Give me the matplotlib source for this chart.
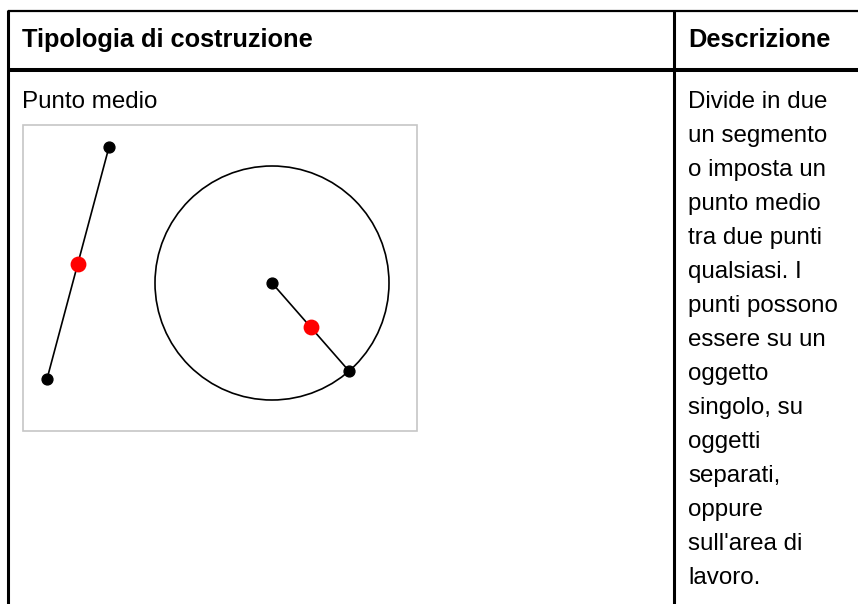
import matplotlib
matplotlib.use('Agg')
import matplotlib.pyplot as plt
from matplotlib.patches import Circle, Rectangle

# table content
HEADERS = ["Tipologia di costruzione", "Descrizione"]
ROW_LABEL = "Punto medio"
DESC_LINES = ["Divide in due", "un segmento", "o imposta un", "punto medio",
              "tra due punti", "qualsiasi. I", "punti possono", "essere su un",
              "oggetto", "singolo, su", "oggetti", "separati,", "oppure",
              "sull'area di", "lavoro."]

# illustration (pixel coords)
SEG_X = [47, 109]
SEG_Y = [379, 147]
SEG_MID = (78, 264)
CIRCLE_CENTER = (272, 283)
CIRCLE_R = 117
CIRCLE_PT = (349, 371)
RADIUS_MID = (311, 327)

W, H = 858, 604
plt.rcParams['font.family'] = ['Liberation Sans', 'DejaVu Sans']

fig = plt.figure(figsize=(W / 100, H / 100), dpi=100)
ax = fig.add_axes([0, 0, 1, 1])
ax.set_xlim(0, W)
ax.set_ylim(H, 0)
ax.axis('off')

# table rules
ax.plot([8, W], [11, 11], color='black', lw=1.6, solid_capstyle='butt')
ax.plot([8, W], [69.5, 69.5], color='black', lw=2.9, solid_capstyle='butt')
ax.plot([8, 8], [10, H], color='black', lw=2.2, solid_capstyle='butt')
ax.plot([674, 674], [10, H], color='black', lw=2.2, solid_capstyle='butt')

# header
ax.text(22, 47, HEADERS[0], fontsize=18.3, fontweight='bold', va='baseline', ha='left')
ax.text(688, 47, HEADERS[1], fontsize=18.3, fontweight='bold', va='baseline', ha='left')

# first column label
ax.text(22, 108, ROW_LABEL, fontsize=17.4, va='baseline', ha='left')

# description lines
for i, line in enumerate(DESC_LINES):
    ax.text(688, 108 + i * 34, line, fontsize=17.4, va='baseline', ha='left')

# illustration frame
ax.add_patch(Rectangle((22.5, 124.5), 394, 306, fill=False, edgecolor='#c6c6c6', lw=1.2))

# segment with midpoint
ax.plot(SEG_X, SEG_Y, color='black', lw=1.2, zorder=3)
ax.plot(SEG_X, SEG_Y, 'o', color='black', ms=7.8, zorder=4)
ax.plot(*SEG_MID, 'o', color='#ff0000', ms=10.4, zorder=5)

# circle with radius and midpoint
ax.add_patch(Circle(CIRCLE_CENTER, CIRCLE_R, fill=False, edgecolor='black', lw=1.2, zorder=3))
ax.plot([CIRCLE_CENTER[0], CIRCLE_PT[0]], [CIRCLE_CENTER[1], CIRCLE_PT[1]], color='black', lw=1.2, zorder=3)
ax.plot([CIRCLE_CENTER[0], CIRCLE_PT[0]], [CIRCLE_CENTER[1], CIRCLE_PT[1]], 'o', color='black', ms=7.8, zorder=4)
ax.plot(*RADIUS_MID, 'o', color='#ff0000', ms=10.4, zorder=5)

fig.savefig('out.png', dpi=100)
